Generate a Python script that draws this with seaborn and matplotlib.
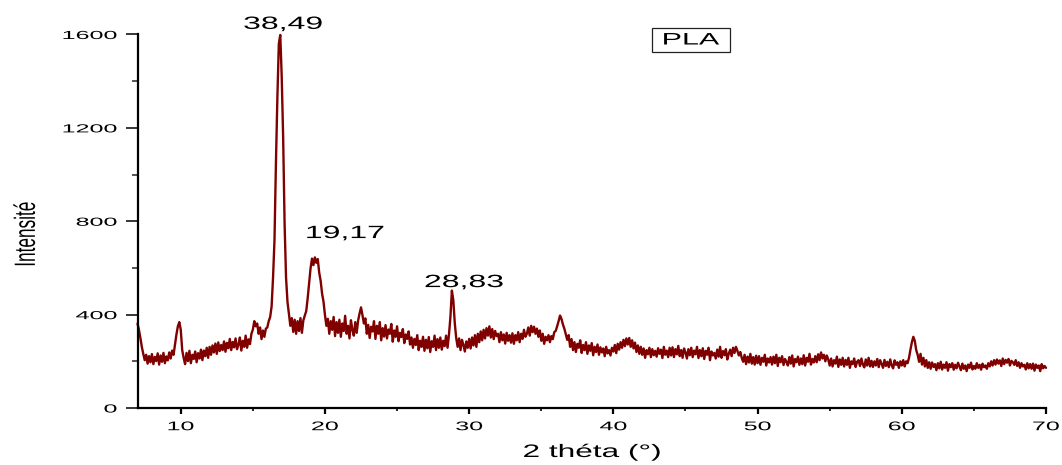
import numpy as np
import pandas as pd
import seaborn as sns
import matplotlib
matplotlib.use("Agg")
import matplotlib.pyplot as plt
from matplotlib.patheffects import AbstractPathEffect
from matplotlib.patches import Rectangle
from matplotlib.transforms import Affine2D

# XRD scan of PLA: 2-theta from 7 to 70 degrees, step 0.1
scan_start = 7.0
scan_step = 0.1
intensity = [
    362, 335, 300, 262, 232, 205, 228, 190, 222, 196,
    231, 188, 219, 201, 234, 186, 225, 198, 236, 192,
    221, 204, 238, 212, 246, 228, 270, 315, 350, 368,
    335, 248, 215, 188, 236, 201, 245, 192, 228, 210,
    242, 196, 235, 212, 250, 205, 246, 222, 258, 215,
    262, 228, 268, 238, 276, 232, 281, 244, 270, 248,
    285, 241, 279, 256, 296, 248, 283, 260, 298, 252,
    271, 302, 246, 288, 262, 310, 258, 294, 274, 318,
    336, 372, 350, 362, 318, 345, 295, 332, 305, 340,
    345, 372, 390, 435, 560, 720, 1050, 1330, 1560, 1598,
    1420, 1160, 790, 560, 455, 402, 352, 385, 326, 378,
    318, 372, 330, 385, 322, 375, 396, 415, 470, 535,
    598, 640, 612, 645, 622, 638, 580, 545, 490, 455,
    398, 352, 382, 318, 372, 335, 390, 308, 368, 322,
    378, 305, 362, 330, 395, 318, 352, 298, 376, 335,
    310, 368, 322, 375, 405, 431, 398, 362, 384, 318,
    356, 300, 348, 328, 372, 296, 352, 318, 368, 290,
    342, 306, 355, 298, 336, 318, 360, 284, 332, 305,
    350, 286, 322, 304, 338, 278, 315, 296, 328, 272,
    302, 258, 296, 270, 312, 248, 288, 262, 305, 245,
    292, 256, 304, 240, 286, 262, 310, 248, 295, 258,
    302, 250, 288, 265, 310, 258, 315, 390, 503, 462,
    365, 300, 262, 298, 248, 292, 270, 242, 285, 258,
    296, 255, 302, 268, 312, 262, 318, 282, 328, 290,
    335, 298, 342, 310, 350, 302, 338, 295, 330, 308,
    318, 282, 325, 290, 315, 276, 322, 288, 312, 280,
    320, 275, 312, 290, 325, 282, 318, 296, 335, 305,
    318, 345, 310, 352, 325, 348, 318, 340, 305, 332,
    288, 318, 275, 305, 290, 312, 282, 308, 295, 325,
    330, 350, 372, 396, 382, 358, 340, 316, 292, 312,
    262, 295, 248, 282, 240, 275, 258, 290, 236, 270,
    248, 282, 232, 268, 245, 278, 226, 262, 240, 272,
    228, 260, 238, 255, 222, 262, 234, 248, 225, 258,
    242, 270, 235, 275, 250, 282, 258, 292, 265, 298,
    272, 300, 262, 290, 255, 280, 240, 268, 232, 262,
    228, 255, 215, 248, 230, 258, 218, 252, 226, 245,
    220, 256, 232, 250, 214, 262, 228, 246, 218, 258,
    225, 260, 218, 252, 230, 266, 222, 248, 215, 255,
    238, 212, 252, 226, 258, 218, 246, 230, 262, 214,
    248, 222, 256, 210, 245, 228, 258, 205, 242, 225,
    236, 212, 250, 220, 262, 215, 244, 226, 252, 208,
    232, 250, 222, 258, 236, 262, 245, 225, 240, 215,
    198, 228, 188, 220, 195, 232, 190, 218, 186, 224,
    192, 222, 185, 215, 198, 228, 182, 212, 195, 218,
    186, 220, 192, 228, 180, 215, 196, 222, 184, 210,
    198, 182, 218, 190, 225, 178, 210, 196, 220, 185,
    212, 188, 226, 182, 215, 198, 232, 186, 210, 195,
    222, 196, 230, 205, 238, 212, 228, 200, 225, 208,
    182, 212, 178, 205, 190, 220, 176, 208, 185, 215,
    178, 206, 185, 215, 172, 200, 188, 212, 176, 198,
    205, 180, 212, 186, 174, 208, 182, 215, 178, 202,
    176, 200, 182, 210, 175, 205, 188, 172, 206, 180,
    198, 175, 208, 182, 170, 204, 185, 196, 172, 200,
    182, 205, 178, 200, 192, 215, 250, 282, 305, 288,
    248, 228, 198, 232, 186, 215, 178, 205, 172, 196,
    168, 195, 176, 188, 162, 192, 170, 198, 165, 186,
    172, 196, 160, 188, 175, 192, 164, 185, 170, 194,
    178, 162, 190, 168, 182, 158, 186, 172, 194, 165,
    180, 168, 192, 172, 185, 164, 190, 175, 182, 168,
    192, 178, 200, 182, 205, 186, 208, 190, 204, 180,
    212, 188, 206, 194, 210, 182, 202, 196, 185, 205,
    180, 196, 172, 192, 178, 185, 165, 192, 170, 188,
    168, 190, 160, 186, 172, 182, 158, 188, 170, 180,
    172,
]
two_theta = np.round(scan_start + scan_step * np.arange(len(intensity)), 2)

# Annotated peaks: label text and where it sits
peak_labels = ["38,49", "19,17", "28,83"]
peak_label_x = [17.09, 21.39, 29.64]
peak_label_y = [1624, 728, 518]

x_ticks = [10, 20, 30, 40, 50, 60, 70]
y_ticks = [0, 400, 800, 1200, 1600]
sample_name = "PLA"
x_title = "2 théta (°)"
y_title = "Intensité"

line_color = "#800000"
FONT = ["Liberation Sans", "DejaVu Sans"]


class Stretch(AbstractPathEffect):
    """Scale glyph outlines horizontally about an anchor edge."""

    def __init__(self, sx=1.0, anchor="center"):
        super().__init__()
        self.sx = sx
        self.anchor = anchor

    def draw_path(self, renderer, gc, tpath, affine, rgbFace=None):
        bb = tpath.get_extents(affine)
        if self.anchor == "right":
            x0 = bb.x1
        elif self.anchor == "left":
            x0 = bb.x0
        else:
            x0 = 0.5 * (bb.x0 + bb.x1)
        t = affine + Affine2D().translate(-x0, 0).scale(self.sx, 1.0).translate(x0, 0)
        renderer.draw_path(gc, tpath, t, rgbFace)


sns.set_theme(style="ticks")
plt.rcParams["font.family"] = FONT

df = pd.DataFrame({"two_theta": two_theta, "intensity": intensity})

fig = plt.figure(figsize=(10.62, 4.65), dpi=100)
ax = fig.add_axes([137.5 / 1062, 1 - 408 / 465, (1046 - 137.5) / 1062, (408 - 34.5) / 465])

sns.lineplot(data=df, x="two_theta", y="intensity", ax=ax, color=line_color,
             linewidth=1.7, sort=False, estimator=None, clip_on=False)

ax.set_xlim(7, 70)
ax.set_ylim(0, 1600)
ax.set_xticks(x_ticks)
ax.set_xticks([15, 25, 35, 45, 55, 65], minor=True)
ax.set_yticks(y_ticks)
ax.set_yticks([200, 600, 1000, 1400], minor=True)
ax.set_xlabel("")
ax.set_ylabel("")

for side in ("top", "right"):
    ax.spines[side].set_visible(False)
for side in ("left", "bottom"):
    ax.spines[side].set_linewidth(1.6)
    ax.spines[side].set_color("black")

ax.tick_params(axis="x", which="major", direction="out", length=4.5, width=1.6,
               pad=5, labelsize=9, colors="black")
ax.tick_params(axis="x", which="minor", direction="out", length=2.3, width=1.4)
ax.tick_params(axis="y", which="major", direction="out", length=8.8, width=1.1,
               pad=6, labelsize=8.4, colors="black")
ax.tick_params(axis="y", which="minor", direction="out", length=4.4, width=1.1)

for t in ax.xaxis.get_major_ticks():
    t.label1.set_path_effects([Stretch(2.0, "center")])
for t in ax.yaxis.get_major_ticks():
    t.label1.set_path_effects([Stretch(2.15, "right")])

# Peak annotations
for txt, px, py in zip(peak_labels, peak_label_x, peak_label_y):
    ax.text(px, py, txt, ha="center", va="baseline", fontsize=12.8, color="black",
            clip_on=False, path_effects=[Stretch(1.8, "center")])

# Sample tag in a framed box
fig.add_artist(Rectangle((652 / 1062, 1 - 52 / 465), 78 / 1062, 24 / 465,
                         transform=fig.transFigure, fill=False,
                         edgecolor="#222222", linewidth=0.9))
fig.text(691 / 1062, 1 - 40 / 465, sample_name, ha="center", va="center",
         fontsize=12, color="black", path_effects=[Stretch(1.83, "center")])

# Axis titles
fig.text(592 / 1062, 1 - 457 / 465, x_title, ha="center", va="baseline",
         fontsize=13, color="black", path_effects=[Stretch(1.75, "center")])
fig.text(35 / 1062, 1 - 234 / 465, y_title, rotation=90, rotation_mode="anchor",
         ha="center", va="baseline", fontsize=12.4, color="black",
         path_effects=[Stretch(1.7, "right")])

fig.savefig("out.png", dpi=100)
